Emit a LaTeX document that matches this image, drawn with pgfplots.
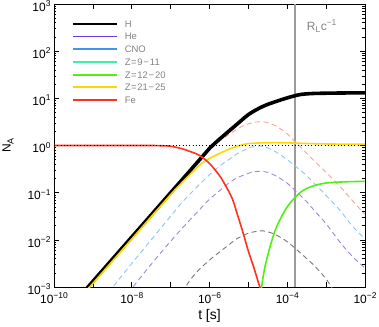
\documentclass[border=0pt]{standalone}
\usepackage{fontspec}
\setmainfont{Liberation Sans}
\usepackage{pgfplots}
\pgfplotsset{compat=1.18}
\definecolor{cHe}{RGB}{110,60,210}
\definecolor{cCNO}{RGB}{60,150,240}
\definecolor{cZa}{RGB}{60,240,170}
\definecolor{cZb}{RGB}{80,240,20}
\definecolor{cZc}{RGB}{255,215,0}
\definecolor{cFe}{RGB}{255,50,30}
\definecolor{dPink}{RGB}{255,160,150}
\definecolor{dBlue}{RGB}{140,195,250}
\definecolor{dPurple}{RGB}{160,130,230}
\definecolor{dGray}{RGB}{120,120,120}
\definecolor{lgray}{RGB}{130,130,130}
\definecolor{vgray}{RGB}{155,155,155}
\newcommand{\sups}[1]{\raisebox{0.4em}{\fontsize{8.5}{9}\selectfont #1}}
\newcommand{\tl}[1]{10\sups{#1}}
\newcommand{\mn}{\kern0.1em−\kern0.1em}
\newcommand{\eq}{\kern0.06em=\kern0.06em}
\begin{document}
\begin{tikzpicture}
\useasboundingbox (-54bp,-40bp) rectangle (325bp,287bp);
\begin{axis}[
  at={(0,0)}, anchor=south west,
  scale only axis, width=311bp, height=283bp,
  xmode=log, ymode=log,
  xmin=1e-10, xmax=1e-2, ymin=1e-3, ymax=1e3,
  xtick={1e-10,1e-9,1e-8,1e-7,1e-6,1e-5,1e-4,1e-3,1e-2},
  xticklabels={\tl{−10},,\tl{−8},,\tl{−6},,\tl{−4},,\tl{−2}},
  ytick={1e-3,1e-2,1e-1,1,1e1,1e2,1e3},
  yticklabels={\tl{−3},\tl{−2},\tl{−1},\tl{0},\tl{1},\tl{2},\tl{3}},
  xminorticks=false,
  yminorticks=true,
  minor ytick={2e-3,3e-3,4e-3,5e-3,6e-3,7e-3,8e-3,9e-3,
               2e-2,3e-2,4e-2,5e-2,6e-2,7e-2,8e-2,9e-2,
               2e-1,3e-1,4e-1,5e-1,6e-1,7e-1,8e-1,9e-1,
               2,3,4,5,6,7,8,9,20,30,40,50,60,70,80,90,
               200,300,400,500,600,700,800,900},
  xtick pos=both, ytick pos=both,
  xticklabel pos=lower, yticklabel pos=left,
  tick align=inside,
  major tick length=5bp, minor tick length=2.5bp,
  tick style={black, line width=0.6bp},
  axis line style={line width=0.8bp},
  ticklabel style={font=\fontsize{12}{14}\selectfont},
  xticklabel style={yshift=-2bp},
  yticklabel style={yshift=-2bp},
  xlabel={t [s]},
  xlabel style={at={(axis description cs:0.5,-0.1025)}, anchor=center, font=\fontsize{14}{16}\selectfont},
  ylabel={N\raisebox{-0.25em}{\fontsize{9}{10}\selectfont A}},
  ylabel style={at={(axis description cs:-0.148,0.5)}, anchor=center, font=\fontsize{12}{14}\selectfont},
  legend style={at={(axis description cs:0.058,0.9417)}, anchor=north west,
    draw=none, fill=none, inner sep=0pt, outer sep=0pt, row sep=5.1bp,
    font=\fontsize{9.5}{11}\selectfont, text=lgray,
    nodes={inner sep=0pt, text height=6.7bp, text depth=0bp, anchor=base west}},
  legend cell align=left,
  legend image code/.code={\draw[#1] (0bp,3.4bp) -- (44bp,3.4bp); \path (51bp,0bp);},
]
\addlegendimage{black, line width=1.8bp}
\addlegendimage{cHe, line width=1.8bp}
\addlegendimage{cCNO, line width=1.8bp}
\addlegendimage{cZa, line width=1.8bp}
\addlegendimage{cZb, line width=1.8bp}
\addlegendimage{cZc, line width=1.8bp}
\addlegendimage{cFe, line width=1.8bp}
\legend{H, He, CNO, Z\eq9\mn11, Z\eq12\mn20, Z\eq21\mn25, Fe}

% light-crossing time
\addplot[vgray, line width=1.6bp, forget plot] coordinates {(1.61e-4,1e-3) (1.61e-4,1e3)};

% dashed secondaries
\addplot[dPink, line width=0.9bp, dash pattern=on 5bp off 3.5bp, smooth, forget plot] coordinates {
(3e-7,0.257) (5e-7,0.417) (1e-6,0.794) (1.5e-6,1.096) (2e-6,1.318) (3e-6,1.66) (5e-6,2.19) (7e-6,2.57) (1e-5,2.88) (1.5e-5,3.13) (2e-5,3.2) (3e-5,3.09) (5e-5,2.63) (7e-5,2.19) (1e-4,1.778) (2e-4,1.0) (3e-4,0.708) (5e-4,0.468) (1e-3,0.269) (2e-3,0.151) (3e-3,0.1047) (5e-3,0.0646) (1e-2,0.0347)};
\addplot[dBlue, line width=0.9bp, dash pattern=on 5bp off 3.5bp, smooth, forget plot] coordinates {
(2.51e-9,7.59e-4) (3e-9,9.12e-4) (5e-9,1.55e-3) (1e-8,3.16e-3) (2e-8,6.31e-3) (5e-8,0.01585) (1e-7,0.0316) (2e-7,0.0631) (5e-7,0.138) (1e-6,0.24) (2e-6,0.389) (3e-6,0.49) (5e-6,0.661) (1e-5,0.881) (1.5e-5,0.966) (2e-5,0.977) (3e-5,0.902) (5e-5,0.741) (1e-4,0.501) (2e-4,0.316) (3e-4,0.24) (5e-4,0.155) (1e-3,0.0871) (2e-3,0.0479) (3e-3,0.0316) (5e-3,0.0186) (1e-2,0.01047)};
\addplot[dPurple, line width=0.9bp, dash pattern=on 5bp off 3.5bp, smooth, forget plot] coordinates {
(7.94e-9,7.41e-4) (1e-8,9.33e-4) (2e-8,1.905e-3) (5e-8,4.79e-3) (1e-7,9.33e-3) (2e-7,0.01778) (5e-7,0.0398) (1e-6,0.0724) (2e-6,0.1175) (3e-6,0.155) (5e-6,0.204) (1e-5,0.257) (1.5e-5,0.279) (2e-5,0.285) (3e-5,0.272) (5e-5,0.229) (1e-4,0.1585) (2e-4,0.0933) (3e-4,0.0676) (5e-4,0.0417) (1e-3,0.0219) (2e-3,0.01023) (3e-3,6.76e-3) (5e-3,4.27e-3) (1e-2,2.51e-3)};
\addplot[dGray, line width=0.9bp, dash pattern=on 5bp off 3.5bp, smooth, forget plot] coordinates {
(2e-7,7.59e-4) (3e-7,1.318e-3) (5e-7,2.19e-3) (1e-6,3.72e-3) (2e-6,5.89e-3) (3e-6,7.59e-3) (5e-6,0.01047) (1e-5,0.0138) (2e-5,0.01549) (3e-5,0.01496) (5e-5,0.01288) (1e-4,9.12e-3) (2e-4,5.62e-3) (3e-4,4.17e-3) (5e-4,2.82e-3) (1e-3,1.479e-3) (1.67e-3,7.59e-4)};

% H
\addplot[black, line width=3.6bp, smooth, forget plot] coordinates {
(5e-10,6.84e-4) (1e-9,1.31e-3) (1e-8,1.142e-2) (1e-7,9.94e-2) (3e-7,0.279) (5e-7,0.452) (7e-7,0.619) (1e-6,0.866) (1.5e-6,1.189) (2e-6,1.462) (3e-6,1.95) (5e-6,2.786) (7e-6,3.548) (1e-5,4.52) (1.5e-5,5.56) (2e-5,6.31) (3e-5,7.33) (5e-5,8.51) (1e-4,10.23) (2e-4,11.9) (3e-4,12.4) (5e-4,12.7) (1e-3,12.85) (3e-3,13.0) (1e-2,13.1)};
% Z=21-25
\addplot[cZc, line width=1.6bp, smooth, forget plot] coordinates {
(5e-10,6.24e-4) (1e-9,1.19e-3) (1e-8,1.041e-2) (1e-7,9.07e-2) (2e-7,0.166) (3e-7,0.234) (5e-7,0.355) (7e-7,0.447) (1e-6,0.531) (1.5e-6,0.631) (2e-6,0.708) (3e-6,0.822) (5e-6,0.955) (7e-6,1.035) (1e-5,1.096) (2e-5,1.135) (5e-5,1.148) (1e-4,1.137) (2e-4,1.117) (5e-4,1.091) (1e-3,1.079) (3e-3,1.069) (1e-2,1.064)};
% Z=12-20
\addplot[cZb, line width=1.6bp, smooth, forget plot] coordinates {
(2.09e-5,7.08e-4) (2.19e-5,1e-3) (2.4e-5,1.66e-3) (2.69e-5,2.75e-3) (3e-5,3.98e-3) (3.6e-5,7.16e-3) (4e-5,9.55e-3) (5e-5,0.0166) (7e-5,0.0302) (1e-4,0.0501) (1.4e-4,0.0708) (2e-4,0.0955) (3e-4,0.1202) (5e-4,0.1413) (1e-3,0.1603) (3e-3,0.1698) (1e-2,0.1738)};
% Fe
\addplot[cFe, line width=1.6bp, smooth, forget plot] coordinates {
(1e-10,1) (3.16e-8,0.998) (5e-8,0.991) (1e-7,0.966) (2e-7,0.851) (3e-7,0.759) (5e-7,0.646) (7e-7,0.537) (1e-6,0.417) (1.5e-6,0.282) (2e-6,0.204) (3e-6,0.1135) (4e-6,0.0692) (5e-6,0.0385) (7e-6,0.01585) (1e-5,5.75e-3) (1.4e-5,2.51e-3) (1.8e-5,1.259e-3) (2e-5,9.77e-4) (2.19e-5,7.59e-4)};
% N=1 reference
\addplot[black, line width=0.8bp, dash pattern=on 0.9bp off 2.4bp, forget plot] coordinates {(1e-10,1) (1e-2,1)};

\node[anchor=base west, inner sep=0pt, text=lgray, font=\fontsize{12}{14}\selectfont] at (axis cs:3.16e-4,281) {R\raisebox{-0.2em}{\fontsize{8.5}{9}\selectfont L}\kern0.05em c\sups{−1}};
\end{axis}
\end{tikzpicture}
\end{document}
